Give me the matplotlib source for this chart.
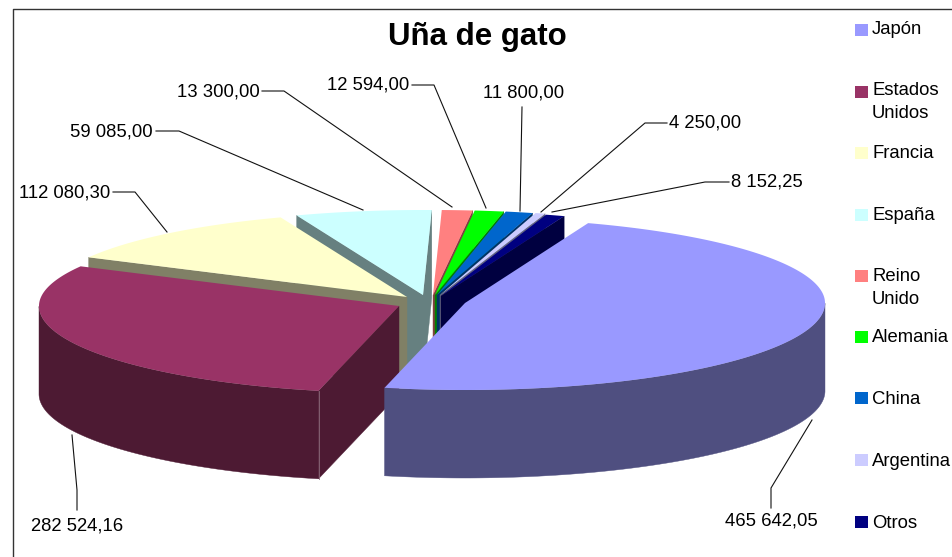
import numpy as np
import matplotlib
matplotlib.use("Agg")
import matplotlib.pyplot as plt
from matplotlib.patches import Polygon, Rectangle

# ---------- data ----------
categories = ["Japón", "Estados\nUnidos", "Francia", "España", "Reino\nUnido",
              "Alemania", "China", "Argentina", "Otros"]
values = [465642.05, 282524.16, 112080.30, 59085.00, 13300.00,
          12594.00, 11800.00, 4250.00, 8152.25]
title = "Uña de gato"

# ---------- styles ----------
top_colors = ["#9999FF", "#993366", "#FFFFCC", "#CCFFFF", "#FF8080",
              "#00FF00", "#0066CC", "#CCCCFF", "#000080"]
wall_colors = ["#4F4F80", "#4D1A33", "#808066", "#668080", "#804040",
               "#008000", "#003366", "#666680", "#000040"]
# apex of each exploded slice on the canvas
apex_x = [465, 399, 407, 423, 433, 435, 437, 440, 441]
apex_y = [303, 306, 297, 295, 295, 295, 295, 295, 296]
legend_y = [30, 92, 153, 215, 276, 337, 398, 460, 522]
text_y = [30, 102, 153, 216, 288, 338, 399, 461, 523]
# label centre (x, y, ha) and leader path for each value label
label_pos = [(771, 521, "center"), (77, 526, "center"), (110, 193, "right"),
             (153, 132, "right"), (260, 92, "right"), (409, 85, "right"),
             (524, 93, "center"), (669, 123, "left"), (731, 182, "left")]
leaders = [[(771, 508), (771, 488), (812, 420)],
           [(77, 510), (77, 490), (72, 435)],
           [(113, 192), (135, 192), (167, 232)],
           [(156, 131), (179, 131), (363, 210)],
           [(262, 91), (284, 91), (452, 207)],
           [(412, 85), (434, 85), (486, 208)],
           [(522, 107), (520, 211)],
           [(667, 123), (645, 123), (541, 212)],
           [(729, 182), (705, 182), (552, 212)]]
draw_order = [3, 4, 5, 6, 7, 8, 2, 1, 0]

START_DEG = 70.0
RX, RY_UP, RY_DOWN, DEPTH = 360.0, 85.0, 87.0, 88.0
FONT = "Liberation Sans"

fig = plt.figure(figsize=(9.52, 5.57), dpi=100, facecolor="white")
ax = fig.add_axes([0, 0, 1, 1])
ax.set_xlim(0, 952)
ax.set_ylim(557, 0)
ax.axis("off")

# chart frame: only left and top edges fall on the canvas
ax.plot([13, 13, 952], [557, 9, 9], color="#333333", lw=1.0, zorder=1)

sweeps = np.array(values) / np.sum(values) * 360.0
ends = START_DEG - np.cumsum(sweeps)
starts = ends + sweeps


def rim(i, theta_deg):
    t = np.radians(np.atleast_1d(theta_deg))
    s = np.sin(t)
    ry = np.where(s > 0, RY_UP, RY_DOWN)
    return apex_x[i] + RX * np.cos(t), apex_y[i] - ry * s


z = 2
for i in draw_order:
    t0, t1 = starts[i], ends[i]
    ax0, ay0 = apex_x[i], apex_y[i]
    wc = wall_colors[i]
    # radial faces turned towards the viewer
    for th, visible in ((t0, np.cos(np.radians(t0)) < 0),
                        (t1, np.cos(np.radians(t1)) > 0)):
        if visible:
            x, y = rim(i, th)
            ax.add_patch(Polygon([(ax0, ay0), (x[0], y[0]), (x[0], y[0] + DEPTH),
                                  (ax0, ay0 + DEPTH)], closed=True, fc=wc, ec=wc,
                                 lw=0.3, zorder=z))
            z += 1
    # outer wall: the part of the arc on the near half of the ellipse
    th = np.linspace(t0, t1, 240)
    near = th[np.sin(np.radians(th)) <= 0]
    if near.size > 1:
        x, y = rim(i, near)
        pts = np.r_[np.c_[x, y], np.c_[x, y + DEPTH][::-1]]
        ax.add_patch(Polygon(pts, closed=True, fc=wc, ec=wc, lw=0.3, zorder=z))
        z += 1
    # top surface
    x, y = rim(i, th)
    pts = np.r_[[[ax0, ay0]], np.c_[x, y]]
    ax.add_patch(Polygon(pts, closed=True, fc=top_colors[i], ec="none", zorder=z))
    z += 1

# seam where USA's outer wall meets its radial face
xs, ys = rim(1, starts[1])
ax.plot([xs[0], xs[0]], [ys[0], ys[0] + DEPTH], color="#8A6A7A", lw=0.6, zorder=z - 4)


def fmt(v):
    s = f"{v:,.2f}"
    return s.replace(",", " ").replace(".", ",")


# leaders and value labels
for i, path in enumerate(leaders):
    px, py = zip(*path)
    ax.plot(px, py, color="#111111", lw=0.8, zorder=100)
    lx, ly, ha = label_pos[i]
    ax.text(lx, ly, fmt(values[i]), ha=ha, va="center", fontsize=13.3,
            family=FONT, color="black", zorder=101)

# title
ax.text(477, 37, title, ha="center", va="center", fontsize=22.5, fontweight="bold",
        family=FONT, color="black", zorder=101)

# legend
for i, cat in enumerate(categories):
    ax.add_patch(Rectangle((855, legend_y[i] - 6), 13, 12, fc=top_colors[i],
                           ec="none", zorder=101))
    ax.text(872, text_y[i], cat, ha="left", va="center", fontsize=13.3, family=FONT,
            color="black", linespacing=1.45, zorder=101)

fig.savefig("out.png", dpi=100, facecolor="white")
